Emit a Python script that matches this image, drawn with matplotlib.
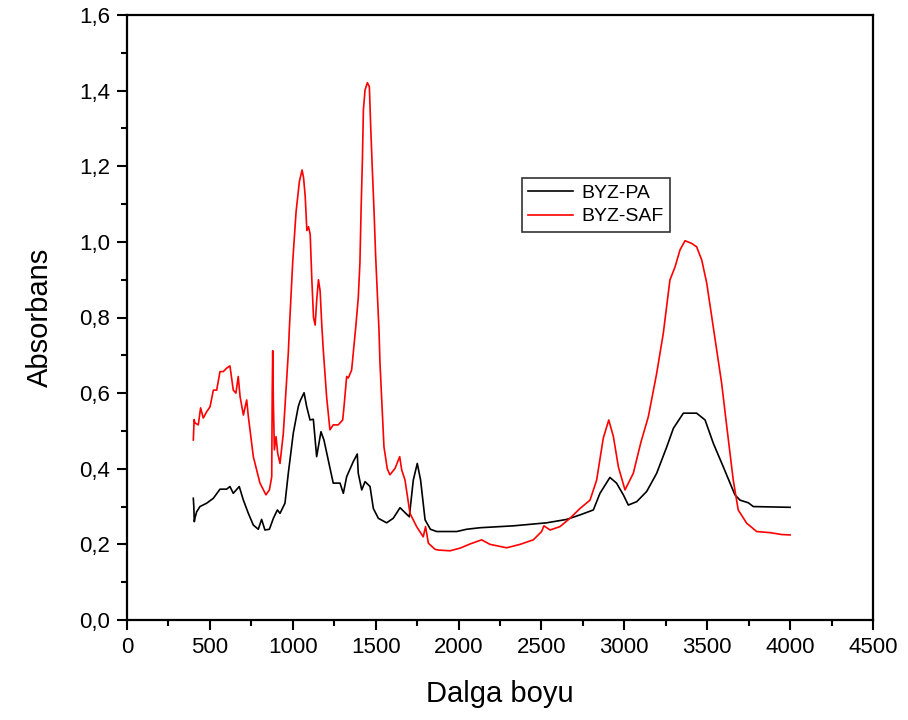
import matplotlib
matplotlib.use("Agg")
import matplotlib.pyplot as plt
from matplotlib.ticker import MultipleLocator, FuncFormatter

plt.rcParams['font.family'] = ['Liberation Sans', 'DejaVu Sans']

# BYZ-PA (black)
pa_x = [400, 403, 406, 410, 420, 440, 481, 521, 561, 601, 621, 641, 677, 702, 732, 762, 792, 812, 832, 859,
        883, 907, 923, 953, 973, 1003, 1033, 1044, 1068, 1084, 1104, 1124, 1144, 1170, 1188, 1214, 1244, 1285,
        1305, 1325, 1365, 1389, 1395, 1416, 1436, 1466, 1486, 1516, 1566, 1606, 1647, 1677, 1703, 1727, 1751,
        1771, 1798, 1830, 1868, 1989, 2049, 2129, 2330, 2531, 2652, 2733, 2813, 2853, 2913, 2953, 2994, 3024,
        3075, 3135, 3195, 3256, 3296, 3356, 3436, 3487, 3537, 3597, 3667, 3698, 3748, 3778, 4000]
pa_y = [0.322, 0.300, 0.260, 0.270, 0.286, 0.300, 0.309, 0.322, 0.346, 0.346, 0.353, 0.335, 0.353, 0.317,
        0.282, 0.251, 0.240, 0.266, 0.238, 0.240, 0.269, 0.291, 0.282, 0.309, 0.388, 0.494, 0.564, 0.579,
        0.601, 0.564, 0.529, 0.531, 0.432, 0.498, 0.476, 0.423, 0.362, 0.362, 0.335, 0.379, 0.419, 0.439,
        0.388, 0.344, 0.366, 0.353, 0.295, 0.269, 0.257, 0.269, 0.297, 0.284, 0.273, 0.370, 0.414, 0.370,
        0.265, 0.240, 0.234, 0.234, 0.240, 0.244, 0.249, 0.257, 0.266, 0.278, 0.291, 0.335, 0.377, 0.362,
        0.331, 0.304, 0.313, 0.340, 0.388, 0.458, 0.507, 0.547, 0.547, 0.529, 0.467, 0.405, 0.331, 0.317,
        0.310, 0.300, 0.298]

# BYZ-SAF (red)
saf_x = [400, 405, 410, 430, 444, 460, 481, 501, 521, 541, 561, 581, 601, 621, 641, 657, 671, 682, 702, 722,
         732, 762, 802, 838, 859, 873, 876, 879, 883, 889, 899, 909, 923, 943, 963, 973, 979, 1000, 1020, 1040,
         1056, 1065, 1075, 1085, 1095, 1105, 1115, 1125, 1135, 1145, 1155, 1165, 1175, 1184, 1204, 1224, 1244,
         1274, 1301, 1309, 1325, 1335, 1355, 1365, 1381, 1395, 1405, 1412, 1420, 1426, 1436, 1450, 1462, 1470,
         1480, 1490, 1500, 1510, 1520, 1526, 1536, 1550, 1570, 1586, 1617, 1645, 1657, 1677, 1707, 1747, 1787,
         1801, 1818, 1858, 1878, 1948, 2009, 2069, 2139, 2190, 2290, 2371, 2451, 2501, 2515, 2552, 2612, 2672,
         2733, 2793, 2833, 2873, 2906, 2934, 2964, 3004, 3054, 3100, 3145, 3195, 3235, 3275, 3306, 3336, 3366,
         3406, 3436, 3467, 3497, 3527, 3557, 3587, 3617, 3657, 3687, 3738, 3798, 3879, 3950, 4000]
saf_y = [0.476, 0.530, 0.521, 0.516, 0.561, 0.534, 0.551, 0.564, 0.608, 0.608, 0.657, 0.657, 0.666, 0.672,
         0.608, 0.600, 0.644, 0.591, 0.542, 0.582, 0.538, 0.432, 0.362, 0.331, 0.344, 0.379, 0.600, 0.712,
         0.573, 0.450, 0.485, 0.441, 0.414, 0.494, 0.635, 0.706, 0.767, 0.950, 1.080, 1.160, 1.190, 1.170,
         1.120, 1.030, 1.040, 1.020, 0.900, 0.800, 0.780, 0.850, 0.900, 0.870, 0.780, 0.714, 0.591, 0.503,
         0.516, 0.516, 0.529, 0.564, 0.644, 0.640, 0.661, 0.706, 0.780, 0.852, 0.944, 1.084, 1.217, 1.349,
         1.402, 1.421, 1.410, 1.305, 1.190, 1.084, 0.961, 0.864, 0.767, 0.680, 0.590, 0.458, 0.400, 0.384,
         0.401, 0.432, 0.397, 0.370, 0.282, 0.247, 0.220, 0.247, 0.203, 0.187, 0.185, 0.183, 0.190, 0.201,
         0.212, 0.200, 0.191, 0.200, 0.212, 0.234, 0.249, 0.238, 0.247, 0.269, 0.295, 0.317, 0.370, 0.481,
         0.529, 0.485, 0.405, 0.344, 0.388, 0.470, 0.538, 0.652, 0.758, 0.899, 0.934, 0.979, 1.003, 0.996,
         0.987, 0.952, 0.891, 0.802, 0.714, 0.626, 0.515, 0.370, 0.291, 0.256, 0.234, 0.231, 0.226, 0.225]

fig = plt.figure(figsize=(9.08, 7.2), dpi=100)
ax = fig.add_axes([127 / 908, 100 / 720, 746 / 908, 605 / 720])

ax.plot(pa_x, pa_y, color='black', lw=1.2, label='BYZ-PA')
ax.plot(saf_x, saf_y, color='#ff0000', lw=1.2, label='BYZ-SAF')

ax.set_xlim(0, 4500)
ax.set_ylim(0, 1.6)
ax.xaxis.set_major_locator(MultipleLocator(500))
ax.xaxis.set_minor_locator(MultipleLocator(250))
ax.yaxis.set_major_locator(MultipleLocator(0.2))
ax.yaxis.set_minor_locator(MultipleLocator(0.1))
ax.yaxis.set_major_formatter(FuncFormatter(lambda v, p: f"{v:.1f}".replace('.', ',')))
ax.xaxis.set_major_formatter(FuncFormatter(lambda v, p: f"{int(round(v))}"))

for s in ax.spines.values():
    s.set_linewidth(1.6)
ax.tick_params(which='major', direction='out', length=7, width=1.5, labelsize=16, pad=5)
ax.tick_params(which='minor', direction='out', length=4, width=1.5)
ax.tick_params(top=False, right=False, which='both')

ax.set_xlabel('Dalga boyu', fontsize=21, labelpad=16)
ax.set_ylabel('Absorbans', fontsize=21, labelpad=18)

leg = ax.legend(loc='lower left', bbox_to_anchor=(0.529, 0.641), fontsize=14, frameon=True,
                fancybox=False, shadow=False, borderpad=0.35, handlelength=2.3, handletextpad=0.4,
                labelspacing=0.3, borderaxespad=0)
leg.get_frame().set_edgecolor('black')
leg.get_frame().set_linewidth(1.2)

fig.savefig('out.png', dpi=100)
